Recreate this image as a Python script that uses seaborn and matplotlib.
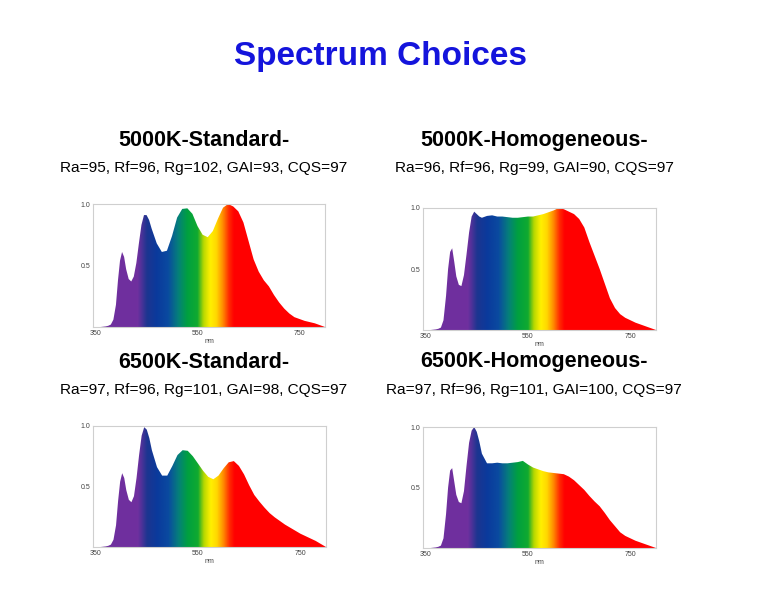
import numpy as np
import matplotlib
matplotlib.use('Agg')
import matplotlib.pyplot as plt
import seaborn as sns
import pandas as pd
from matplotlib.colors import LinearSegmentedColormap

sns.set_style('white')
plt.rcParams['font.family'] = ['Liberation Sans', 'DejaVu Sans']

# wavelength grid (nm), denser around the narrow violet peak
wavelength = [350, 360, 370, 375, 380, 385, 390, 394, 398, 402, 406, 410, 415, 420,
              425, 430, 435, 440, 445, 450, 455, 460, 470, 480, 490, 500, 510, 520,
              530, 540, 550, 560, 570, 580, 590, 600, 610, 620, 630, 640, 650, 660,
              670, 680, 690, 700, 710, 720, 730, 740, 750, 760, 770, 780, 790, 800]

# relative spectral power
std_5000 = [0, 0, 0.005, 0.01, 0.02, 0.06, 0.18, 0.38, 0.54, 0.61, 0.57, 0.47, 0.39, 0.37,
            0.41, 0.52, 0.68, 0.83, 0.91, 0.91, 0.87, 0.80, 0.68, 0.61, 0.62, 0.74, 0.89, 0.96,
            0.965, 0.92, 0.82, 0.75, 0.73, 0.78, 0.88, 0.97, 1.0, 0.98, 0.94, 0.85, 0.70, 0.55,
            0.45, 0.38, 0.33, 0.26, 0.20, 0.15, 0.11, 0.08, 0.065, 0.05, 0.04, 0.03, 0.015, 0]
hom_5000 = [0, 0, 0.005, 0.01, 0.02, 0.08, 0.28, 0.50, 0.64, 0.67, 0.56, 0.44, 0.37, 0.36,
            0.45, 0.62, 0.80, 0.93, 0.97, 0.95, 0.93, 0.92, 0.935, 0.94, 0.93, 0.93, 0.925, 0.92,
            0.92, 0.925, 0.93, 0.93, 0.94, 0.95, 0.965, 0.98, 1.0, 0.99, 0.97, 0.95, 0.91, 0.84,
            0.72, 0.61, 0.50, 0.38, 0.26, 0.18, 0.13, 0.10, 0.08, 0.06, 0.045, 0.03, 0.015, 0]
std_6500 = [0, 0, 0.005, 0.01, 0.02, 0.06, 0.18, 0.38, 0.54, 0.61, 0.57, 0.47, 0.39, 0.37,
            0.42, 0.57, 0.76, 0.92, 0.99, 0.97, 0.90, 0.80, 0.66, 0.59, 0.59, 0.67, 0.76, 0.80,
            0.795, 0.75, 0.69, 0.63, 0.58, 0.56, 0.59, 0.65, 0.70, 0.71, 0.67, 0.60, 0.51, 0.43,
            0.375, 0.325, 0.28, 0.245, 0.215, 0.185, 0.16, 0.135, 0.11, 0.09, 0.07, 0.05, 0.025, 0]
hom_6500 = [0, 0, 0.005, 0.01, 0.02, 0.08, 0.28, 0.50, 0.64, 0.66, 0.55, 0.44, 0.38, 0.37,
            0.47, 0.68, 0.87, 0.97, 1.0, 0.96, 0.88, 0.78, 0.70, 0.70, 0.705, 0.70, 0.70, 0.705,
            0.71, 0.72, 0.69, 0.665, 0.65, 0.635, 0.625, 0.62, 0.615, 0.61, 0.59, 0.56, 0.52, 0.48,
            0.43, 0.385, 0.345, 0.29, 0.23, 0.18, 0.13, 0.10, 0.08, 0.06, 0.045, 0.03, 0.015, 0]

panel_titles = ['5000K-Standard-', '5000K-Homogeneous-', '6500K-Standard-', '6500K-Homogeneous-']
panel_stats = ['Ra=95, Rf=96, Rg=102, GAI=93, CQS=97',
               'Ra=96, Rf=96, Rg=99, GAI=90, CQS=97',
               'Ra=97, Rf=96, Rg=101, GAI=98, CQS=97',
               'Ra=97, Rf=96, Rg=101, GAI=100, CQS=97']
series = [std_5000, hom_5000, std_6500, hom_6500]
x_ticks = [350, 550, 750]
y_ticks = [0.5, 1.0]

# spectrum colours by wavelength
x_lo, x_hi = 345, 800
stops = [(345, '#6e2f9e'), (432, '#70309f'), (450, '#1d3590'), (470, '#0a3a9c'),
         (492, '#0a4aa0'), (512, '#05807a'), (530, '#00a040'), (550, '#10aa30'),
         (562, '#b8d800'), (575, '#fff000'), (587, '#ffd800'), (600, '#ff8a00'),
         (612, '#ff2a00'), (622, '#ff0000'), (800, '#ff0000')]
cmap = LinearSegmentedColormap.from_list(
    'spec', [((nm - x_lo) / (x_hi - x_lo), c) for nm, c in stops])

fig = plt.figure(figsize=(7.6, 6), dpi=100)
W, H = 760, 600

fig.text(380 / W, 1 - 57 / H, 'Spectrum Choices', ha='center', va='center',
         fontsize=24, fontweight='bold', color='#1414dc')

# axes boxes in pixels: left, top, right, bottom
boxes = [(93, 204, 325, 327), (423, 208, 656, 330),
         (93, 426, 326, 547), (423, 427, 656, 548)]
title_pos = [(204, 140, 168), (534, 140, 168), (204, 362, 390), (534, 362, 390)]

for i in range(4):
    l, t, r, b = boxes[i]
    ax = fig.add_axes([l / W, 1 - b / H, (r - l) / W, (b - t) / H])
    df = pd.DataFrame({'nm': wavelength, 'rel': series[i]})
    sns.lineplot(data=df, x='nm', y='rel', ax=ax, color='#ff0000', linewidth=0)
    poly = ax.fill_between(df['nm'], 0, df['rel'], facecolor='none', edgecolor='none')
    grad = np.linspace(x_lo, x_hi, 900).reshape(1, -1)
    img = ax.imshow(grad, extent=[x_lo, x_hi, 0, 1], aspect='auto', cmap=cmap,
                    origin='lower', vmin=x_lo, vmax=x_hi, interpolation='bilinear')
    img.set_clip_path(poly.get_paths()[0], transform=ax.transData)
    ax.set_xlim(x_lo, x_hi)
    ax.set_ylim(0, 1.0)
    ax.set_xticks(x_ticks)
    ax.set_yticks(y_ticks)
    ax.set_yticklabels(['0.5', '1.0'])
    ax.tick_params(length=0, labelsize=5, labelcolor='#444444', pad=2)
    ax.set_xlabel('nm', fontsize=5, color='#444444', labelpad=1)
    ax.set_ylabel('')
    for s in ax.spines.values():
        s.set_color('#cfcfcf')
        s.set_linewidth(0.8)

    cx, ty, sy = title_pos[i]
    fig.text(cx / W, 1 - ty / H, panel_titles[i], ha='center', va='center',
             fontsize=15.5, fontweight='bold', color='black')
    fig.text(cx / W, 1 - sy / H, panel_stats[i], ha='center', va='center',
             fontsize=11.1, color='black')

fig.savefig('out.png', dpi=100, facecolor='white')
